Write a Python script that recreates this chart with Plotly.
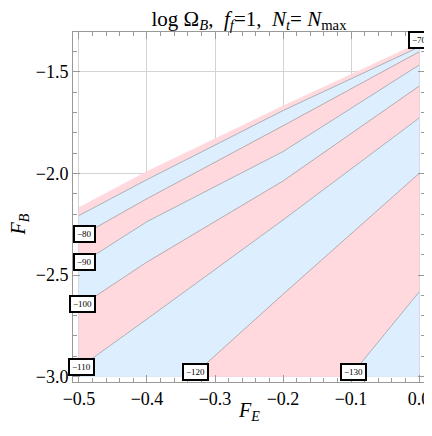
import plotly.graph_objects as go

# ---- data (F_E, F_B points along each contour) ----
# upper boundary of the computed (coloured) region
FE_edge = [-0.5, -0.4, -0.2, 0.0]
FB_edge = [-2.1675, -1.990, -1.6675, -1.357]

levels = [-70, -80, -90, -100, -110, -120, -130]

FE_m70 = [-0.5, -0.4, -0.2, 0.0]
FB_m70 = [-2.207, -2.030, -1.690, -1.377]
FE_m80 = [-0.5, -0.4, -0.2, 0.0]
FB_m80 = [-2.313, -2.124, -1.765, -1.401]
FE_m90 = [-0.5, -0.4, -0.2, 0.0]
FB_m90 = [-2.451, -2.237, -1.892, -1.466]
FE_m100 = [-0.5, -0.4, -0.2, 0.0]
FB_m100 = [-2.658, -2.436, -2.037, -1.570]
FE_m110 = [-0.5, -0.4, -0.2, 0.0]
FB_m110 = [-2.958, -2.717, -2.229, -1.727]
FE_m120 = [-0.334, -0.2, 0.0]
FB_m120 = [-3.0, -2.595, -2.0]
FE_m130 = [-0.1015, -0.0574, 0.0]
FB_m130 = [-3.0, -2.820, -2.584]

# contour label positions
lab_text = ["\u221270", "\u221280", "\u221290", "\u2212100", "\u2212110", "\u2212120", "\u2212130"]
lab_FE = [0.0006, -0.492, -0.492, -0.495, -0.497, -0.329, -0.096]
lab_FB = [-1.342, -2.300, -2.436, -2.643, -2.951, -2.980, -2.980]

x_ticks = [-0.5, -0.4, -0.3, -0.2, -0.1, 0.0]
x_ticktext = ["\u22120.5", "\u22120.4", "\u22120.3", "\u22120.2", "\u22120.1", "0.0"]
y_ticks = [-3.0, -2.5, -2.0, -1.5]
y_ticktext = ["\u22123.0", "\u22122.5", "\u22122.0", "\u22121.5"]

PINK = "#FFD9DE"
BLUE = "#DDEEFF"
LINE = "#a0a0a0"
FE_MIN, FB_MIN = -0.5, -3.0
SERIF = "Liberation Serif, Times New Roman, serif"

lines = [
    (FE_m70, FB_m70), (FE_m80, FB_m80), (FE_m90, FB_m90), (FE_m100, FB_m100),
    (FE_m110, FB_m110), (FE_m120, FB_m120), (FE_m130, FB_m130),
]


def band(upper, lower):
    ux, uy = upper
    lx, ly = lower
    xs = list(ux) + list(lx)[::-1]
    ys = list(uy) + list(ly)[::-1]
    if ux[0] <= FE_MIN + 1e-9 and lx[0] > FE_MIN + 1e-9:
        xs.append(FE_MIN)
        ys.append(FB_MIN)
    xs.append(xs[0])
    ys.append(ys[0])
    return xs, ys


fig = go.Figure()

bounds = [(FE_edge, FB_edge)] + lines + [([0.0], [FB_MIN])]
colors = [PINK, BLUE, PINK, BLUE, PINK, BLUE, PINK, BLUE]
for i in range(len(bounds) - 1):
    xs, ys = band(bounds[i], bounds[i + 1])
    fig.add_trace(go.Scatter(x=xs, y=ys, mode="lines", fill="toself",
                             fillcolor=colors[i], line=dict(width=0.6, color=colors[i]),
                             hoverinfo="skip", showlegend=False))

for lx, ly in lines:
    fig.add_trace(go.Scatter(x=lx, y=ly, mode="lines",
                             line=dict(width=0.8, color=LINE),
                             hoverinfo="skip", showlegend=False))

for t, x, y in zip(lab_text, lab_FE, lab_FB):
    fig.add_annotation(x=x, y=y, xref="x", yref="y", text=t, showarrow=False,
                       font=dict(family=SERIF, size=9, color="black"),
                       bgcolor="white", bordercolor="black", borderwidth=2, borderpad=2)

# axis titles (paper coords; plot area is 352 x 350 px)
fig.add_annotation(x=0.5, y=-30 / 350, xref="paper", yref="paper", text="<i>F<sub>E</sub></i>",
                   showarrow=False, xanchor="center", yanchor="middle",
                   font=dict(family=SERIF, size=20, color="black"))
fig.add_annotation(x=-54 / 352, y=0.45, xref="paper", yref="paper", text="<i>F<sub>B</sub></i>",
                   showarrow=False, xanchor="center", yanchor="middle", textangle=-90,
                   font=dict(family=SERIF, size=20, color="black"))

axis_common = dict(
    automargin=False,
    ticks="inside", ticklen=7, tickcolor="#999999", tickwidth=1,
    showline=True, linecolor="#999999", linewidth=1, mirror="ticks",
    showgrid=True, gridcolor="#d3d3d3", gridwidth=1, zeroline=False,
    tickfont=dict(family=SERIF, size=18, color="black"),
)

SP = "\u2002"
fig.update_layout(
    template="none",
    # page body has an 8px default margin, so the figure is sized/offset for it
    width=424, height=428,
    margin=dict(l=65, r=7, t=24, b=54, autoexpand=False),
    paper_bgcolor="white", plot_bgcolor="white",
    font=dict(family=SERIF, color="black"),
    title=dict(text="log \u03a9<sub><i>B</i></sub>," + SP + "<i>f<sub>f</sub></i>=1," + SP
                    + "<i>N<sub>t</sub></i>= <i>N</i><sub>max</sub>",
               x=0.5, xref="paper", xanchor="center", y=0.993, yanchor="top",
               font=dict(family=SERIF, size=21, color="black")),
    xaxis=dict(range=[-0.5088, 0.0088], tickmode="array", tickvals=x_ticks, ticktext=x_ticktext,
               minor=dict(tickvals=[round(-0.5 + 0.02 * i, 2) for i in range(26)],
                          ticklen=4, tickcolor="#999999", ticks="inside", showgrid=False),
               **axis_common),
    yaxis=dict(range=[-3.027, -1.303], tickmode="array", tickvals=y_ticks, ticktext=y_ticktext,
               minor=dict(tickvals=[round(-3.0 + 0.1 * i, 1) for i in range(18)],
                          ticklen=4, tickcolor="#999999", ticks="inside", showgrid=False),
               **axis_common),
)

fig.write_html("out.html")
